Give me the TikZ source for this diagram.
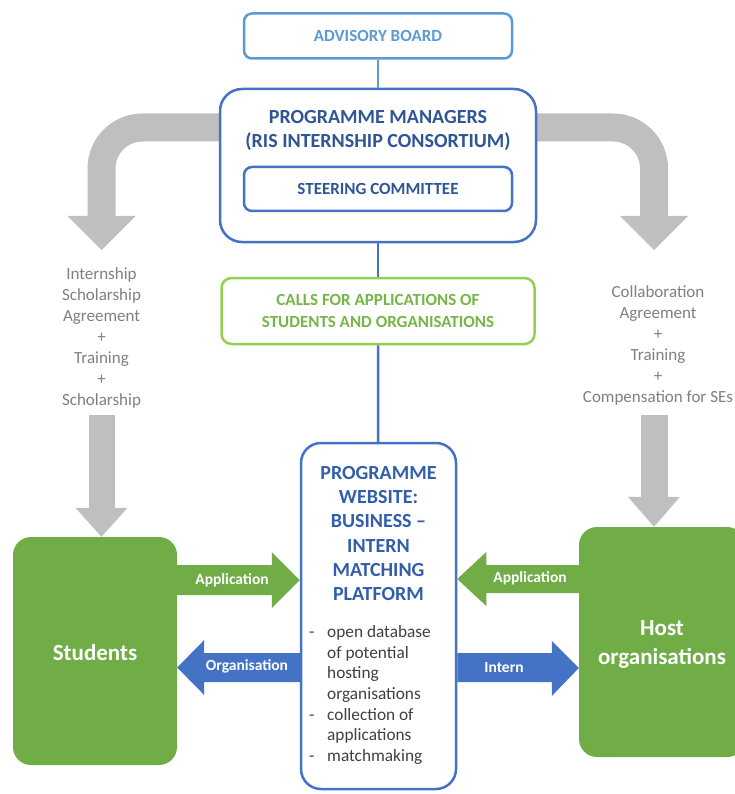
\documentclass[tikz,border=0pt]{standalone}
\usepackage{fontspec}
\setmainfont{Carlito}
\usetikzlibrary{positioning, calc, backgrounds}
\definecolor{boardblue}{RGB}{91, 155, 213}
\definecolor{mgrblue}{RGB}{68, 114, 196}
\definecolor{mgrtext}{RGB}{47, 85, 151}
\definecolor{webtext}{RGB}{50, 95, 172}
\definecolor{callgreen}{RGB}{146, 208, 80}
\definecolor{calltext}{RGB}{118, 182, 72}
\definecolor{partygreen}{RGB}{112, 173, 71}
\definecolor{flowgray}{RGB}{191, 191, 191}
\definecolor{notegray}{RGB}{127, 127, 127}
\definecolor{listgray}{RGB}{64, 64, 64}

\begin{document}
\begin{tikzpicture}[x=1pt, y=-1pt,
  box/.style={draw, line width=2.5pt, fill=white, inner sep=0pt, align=center},
  capsmall/.style={font=\fontsize{17}{22}\selectfont\bfseries},
  capbig/.style={font=\fontsize{20}{24.2}\selectfont\bfseries},
  party/.style={fill=partygreen, rounded corners=18pt, inner sep=0pt, text=white,
                align=center, font=\fontsize{23}{29}\selectfont\bfseries},
  note/.style={text=notegray, align=center, inner sep=0pt, font=\fontsize{17}{21}\selectfont},
  flowlbl/.style={text=white, inner sep=0pt, font=\fontsize{15.5}{18}\selectfont\bfseries},
  link/.style={line width=2.5pt, mgrblue},
]
\useasboundingbox (0,0) rectangle (734,794);

% Advisory board
\node[box, capsmall, draw=boardblue, text=boardblue, rounded corners=8pt,
      minimum width=268pt, minimum height=45pt] (board) at (378,36) {ADVISORY BOARD};

% Programme managers with steering committee inside
\node[box, draw=mgrblue, rounded corners=22pt, minimum width=316pt, minimum height=153pt]
     (pm) at (378,165.5) {};
\node[capbig, text=mgrtext, align=center] (pmtitle) at (378,130.5)
     {PROGRAMME MANAGERS\\(RIS INTERNSHIP CONSORTIUM)};
\node[box, capsmall, draw=mgrblue, text=mgrtext, rounded corners=8pt,
      minimum width=268pt, minimum height=44pt] (steer) at (378,189) {STEERING COMMITTEE};

% Calls
\node[box, capsmall, draw=callgreen, text=calltext, rounded corners=10pt,
      minimum width=313pt, minimum height=66pt] (calls) at (378,311)
     {CALLS FOR APPLICATIONS OF\\STUDENTS AND ORGANISATIONS};

% Website
\node[box, draw=mgrblue, rounded corners=20pt, minimum width=155pt, minimum height=346pt]
     (web) at (378.5,616) {};
\node[capbig, text=webtext, align=center] (webtitle) at (378.5,533.5)
     {PROGRAMME\\WEBSITE:\\BUSINESS --\\INTERN\\MATCHING\\PLATFORM};
\node[text=listgray, align=left, inner sep=0pt, anchor=west,
      font=\fontsize{17.3}{20.6}\selectfont] (weblist) at (309,695)
{\makebox[18pt][l]{-}open database\\
 \hspace*{18pt}of potential\\
 \hspace*{18pt}hosting\\
 \hspace*{18pt}organisations\\
 \makebox[18pt][l]{-}collection of\\
 \hspace*{18pt}applications\\
 \makebox[18pt][l]{-}matchmaking};

% Students and hosts
\node[party, minimum width=164pt, minimum height=228pt] (stud) at (95,651) {};
\node[party] (studlbl) at (95,653) {Students};
\node[party, minimum width=166pt, minimum height=230pt] (host) at (662,642) {};
\node[party] (hostlbl) at (662,644) {Host\\organisations};

% What each side receives
\node[note] (ltxt) at (101.5,338)
     {Internship\\Scholarship\\Agreement\\+\\Training\\+\\Scholarship};
\node[note] (rtxt) at (658,345.5)
     {Collaboration\\Agreement\\+\\Training\\+\\Compensation for SEs};

% Vertical links
\draw[boardblue, line width=2.5pt] (board) -- (pm);
\draw[link] (pm) -- (calls);
\draw[link] (calls) -- (web);

% Gray flows from the managers
\coordinate (lturn) at (101.5,216);
\coordinate (rturn) at (654,216);
\begin{scope}[on background layer]
\draw[flowgray, line width=28pt, rounded corners=41pt] (pm.center |- 0,127.5) -| (lturn);
\draw[flowgray, line width=28pt, rounded corners=41pt] (pm.center |- 0,127.5) -| (rturn);
\end{scope}
\fill[flowgray] ($(lturn)+(-34,0)$) -- ($(lturn)+(34,0)$) -- ($(lturn)+(0,34)$) -- cycle;
\fill[flowgray] ($(rturn)+(-34,0)$) -- ($(rturn)+(34,0)$) -- ($(rturn)+(0,34)$) -- cycle;

% Gray flows down to the parties
\draw[flowgray, line width=26pt] (lturn |- 0,415) -- ($(lturn |- stud.north)+(0,-29)$);
\fill[flowgray] ($(lturn |- stud.north)+(-26,-29)$) -- ++(52,0) -- (lturn |- stud.north) -- cycle;
\draw[flowgray, line width=27pt] (rturn |- 0,415) -- ($(rturn |- host.north)+(0,-30)$);
\fill[flowgray] ($(rturn |- host.north)+(-26,-30)$) -- ++(52,0) -- (rturn |- host.north) -- cycle;

% Block arrows between parties and website
\fill[partygreen] (stud.east |- 0,565) -- ($(web.west |- 0,565)+(-28,0)$) -- ++(0,-13)
  -- (web.west |- 0,580) -- ($(web.west |- 0,608)+(-28,0)$) -- ++(0,-13)
  -- (stud.east |- 0,595) -- cycle;
\node[flowlbl] (applstud) at (232,580) {Application};

\fill[mgrblue] (web.west |- 0,653) -- ($(stud.east |- 0,653)+(27,0)$) -- ++(0,-13)
  -- (stud.east |- 0,667.5) -- ($(stud.east |- 0,695)+(27,0)$) -- ++(0,-13)
  -- (web.west |- 0,682) -- cycle;
\node[flowlbl] (orglbl) at (247,666.5) {Organisation};

\fill[partygreen] (host.west |- 0,565) -- ($(web.east |- 0,565)+(29,0)$) -- ++(0,-13)
  -- (web.east |- 0,579) -- ($(web.east |- 0,606)+(29,0)$) -- ++(0,-13)
  -- (host.west |- 0,593) -- cycle;
\node[flowlbl] (applhost) at (530,578) {Application};

\fill[mgrblue] (web.east |- 0,653) -- ($(host.west |- 0,653)+(-27,0)$) -- ++(0,-12)
  -- (host.west |- 0,668) -- ($(host.west |- 0,696)+(-27,0)$) -- ++(0,-14)
  -- (web.east |- 0,682) -- cycle;
\node[flowlbl] (internlbl) at (504,668) {Intern};
\end{tikzpicture}
\end{document}
